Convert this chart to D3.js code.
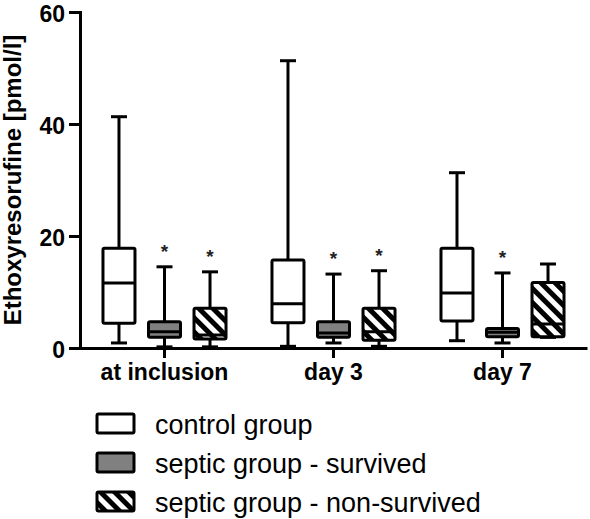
<!DOCTYPE html>
<html>
<head>
<meta charset="utf-8">
<script src="https://cdn.jsdelivr.net/npm/d3@7"></script>
<style>
  html, body { margin: 0; padding: 0; background: #fff; }
  svg { display: block; font-family: "Liberation Sans", Arial, sans-serif; }
</style>
</head>
<body>
<svg id="chart" width="590" height="519"></svg>
<script>
// ---- data ----
const categories = ["at inclusion", "day 3", "day 7"];
const groups = ["control group", "septic group - survived", "septic group - non-survived"];
const yTicks = [0, 20, 40, 60];

// box statistics per group, one value per category
const controlMin = [0.9, 0.3, 1.3];
const controlQ1  = [4.4, 4.5, 4.8];
const controlMed = [11.6, 7.9, 9.8];
const controlQ3  = [17.8, 15.7, 17.8];
const controlMax = [41.3, 51.3, 31.3];

const survivedMin = [0.2, 0.9, 0.9];
const survivedQ1  = [1.9, 1.9, 2.0];
const survivedMed = [2.9, 2.7, 2.8];
const survivedQ3  = [4.7, 4.7, 3.5];
const survivedMax = [14.5, 13.2, 13.4];

const nonSurvMin = [0.2, 0.3, 1.9];
const nonSurvQ1  = [1.6, 1.4, 2.0];
const nonSurvMed = [2.3, 2.9, 4.3];
const nonSurvQ3  = [7.1, 7.1, 11.7];
const nonSurvMax = [13.6, 13.8, 15.0];

// significance asterisks (vs control)
const controlSig  = [false, false, false];
const survivedSig = [true, true, true];
const nonSurvSig  = [true, true, false];

const yLabel = "Ethoxyresorufine [pmol/l]";

// ---- build table ----
const seriesStats = [
  {min: controlMin, q1: controlQ1, med: controlMed, q3: controlQ3, max: controlMax, sig: controlSig, fill: "#ffffff"},
  {min: survivedMin, q1: survivedQ1, med: survivedMed, q3: survivedQ3, max: survivedMax, sig: survivedSig, fill: "#808080"},
  {min: nonSurvMin, q1: nonSurvQ1, med: nonSurvMed, q3: nonSurvQ3, max: nonSurvMax, sig: nonSurvSig, fill: "url(#hatch)"}
];
const boxes = [];
categories.forEach((c, ci) => {
  groups.forEach((g, gi) => {
    const s = seriesStats[gi];
    boxes.push({cat: c, group: g, gi, min: s.min[ci], q1: s.q1[ci], med: s.med[ci], q3: s.q3[ci], max: s.max[ci], sig: s.sig[ci], fill: s.fill});
  });
});

// ---- layout ----
const svg = d3.select("#chart");
const margin = {left: 80, top: 12, right: 3, bottom: 171};
const W = 590, H = 519;
const plotBottom = H - margin.bottom; // 348

const y = d3.scaleLinear().domain([0, 60]).range([plotBottom, margin.top]);
const x = d3.scaleBand().domain(categories).range([margin.left, W - margin.right]).padding(0);
const xSub = d3.scaleBand().domain(groups).range([-x.bandwidth() * 0.404, x.bandwidth() * 0.404]).padding(0);
const boxW = 32, capW = 16;

// hatch pattern
const defs = svg.append("defs");
const pat = defs.append("pattern")
  .attr("id", "hatch")
  .attr("patternUnits", "userSpaceOnUse")
  .attr("width", 10).attr("height", 10)
  .attr("patternTransform", "rotate(-45)");
pat.append("rect").attr("width", 10).attr("height", 10).attr("fill", "#fff");
pat.append("rect").attr("width", 5).attr("height", 10).attr("fill", "#000");

// axes
const yAxis = d3.axisLeft(y).tickValues(yTicks).tickSize(11).tickPadding(4);
const gy = svg.append("g").attr("transform", `translate(${margin.left},0)`).call(yAxis);
gy.select(".domain").attr("stroke", "#000").attr("stroke-width", 3);
gy.selectAll(".tick line").attr("stroke", "#000").attr("stroke-width", 3);
gy.selectAll(".tick text")
  .attr("font-size", 23).attr("font-weight", "bold").attr("fill", "#000")
  .attr("dy", "0.4em")
  .attr("font-family", "Liberation Sans, Arial, sans-serif");

const xAxis = d3.axisBottom(x).tickSize(10).tickPadding(6).tickSizeOuter(0);
const gx = svg.append("g").attr("transform", `translate(0,${plotBottom})`).call(xAxis);
gx.select(".domain").attr("stroke", "#000").attr("stroke-width", 3);
gx.selectAll(".tick line").attr("stroke", "#000").attr("stroke-width", 3);
gx.selectAll(".tick text")
  .attr("font-size", 23).attr("font-weight", "bold").attr("fill", "#000")
  .attr("font-family", "Liberation Sans, Arial, sans-serif");

// y label
svg.append("text")
  .attr("transform", `translate(21,${(y(0) + y(60)) / 2}) rotate(-90)`)
  .attr("text-anchor", "middle")
  .attr("font-size", 24).attr("font-weight", "bold").attr("fill", "#000")
  .text(yLabel);

// boxes
const cx = d => x(d.cat) + x.bandwidth() / 2 + xSub(d.group) + xSub.bandwidth() / 2;
const gb = svg.append("g").attr("stroke", "#000").attr("stroke-width", 3).attr("fill", "none");

const bg = gb.selectAll("g.box").data(boxes).join("g").attr("class", "box");
// whisker line
bg.append("line")
  .attr("x1", cx).attr("x2", cx)
  .attr("y1", d => y(d.max)).attr("y2", d => y(d.min));
// caps
bg.append("line")
  .attr("x1", d => cx(d) - capW / 2).attr("x2", d => cx(d) + capW / 2)
  .attr("y1", d => y(d.max)).attr("y2", d => y(d.max));
bg.append("line")
  .attr("x1", d => cx(d) - capW / 2).attr("x2", d => cx(d) + capW / 2)
  .attr("y1", d => y(d.min)).attr("y2", d => y(d.min));
// box
bg.append("rect")
  .attr("x", d => cx(d) - boxW / 2).attr("width", boxW)
  .attr("y", d => y(d.q3)).attr("height", d => y(d.q1) - y(d.q3))
  .attr("rx", 1.5)
  .attr("fill", d => d.fill)
  .attr("stroke-linejoin", "round");
// median
bg.append("line")
  .attr("x1", d => cx(d) - boxW / 2).attr("x2", d => cx(d) + boxW / 2)
  .attr("y1", d => y(d.med)).attr("y2", d => y(d.med));

// asterisks
svg.append("g").selectAll("text").data(boxes.filter(d => d.sig)).join("text")
  .attr("x", cx).attr("y", d => y(d.max) - 9)
  .attr("text-anchor", "middle")
  .attr("font-size", 19).attr("font-weight", "bold").attr("fill", "#222")
  .text("*");

// legend
const lg = svg.append("g").attr("transform", "translate(97,414)");
const li = lg.selectAll("g").data(groups).join("g")
  .attr("transform", (d, i) => `translate(0,${i * 39})`);
li.append("rect")
  .attr("width", 37).attr("height", 19).attr("rx", 1.5)
  .attr("fill", (d, i) => seriesStats[i].fill)
  .attr("stroke", "#000").attr("stroke-width", 3);
li.append("text")
  .attr("x", 58).attr("y", 20)
  .attr("font-size", 27).attr("fill", "#000")
  .text(d => d);
</script>
</body>
</html>
